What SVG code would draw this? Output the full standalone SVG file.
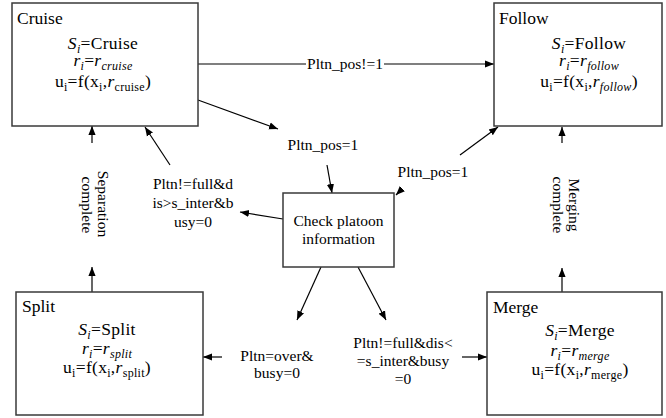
<svg xmlns="http://www.w3.org/2000/svg" width="666" height="418" viewBox="0 0 666 418" font-family="'Liberation Serif', 'DejaVu Serif', serif">
<defs>
<style>
.box{fill:#fff;stroke:#3a3a3a;stroke-width:1.5}
.title{font-family:"Liberation Serif","DejaVu Serif",serif;font-size:17.5px}
.f{font-family:"Liberation Serif","DejaVu Serif",serif;font-size:17.5px;text-anchor:middle;letter-spacing:0.3px}
.lbl{font-family:"Liberation Serif","DejaVu Serif",serif;font-size:15.5px;text-anchor:middle}
.e{stroke:#000;stroke-width:1.2;fill:none;marker-end:url(#ah)}
.s{font-size:12px}
.i{font-style:italic}
</style>
<marker id="ah" viewBox="0 0 10 10" refX="10" refY="5" markerWidth="9" markerHeight="9" markerUnits="userSpaceOnUse" orient="auto">
<path d="M0,1 L10,5 L0,9 z" fill="#000"/>
</marker>
</defs>
<g id="connectors">
<line class="e" x1="198" y1="64" x2="494" y2="64"/>
<rect x="306" y="55" width="78" height="18" fill="#fff"/>
<text class="lbl" x="345" y="69">Pltn_pos!=1</text>
<line class="e" x1="198" y1="100" x2="278" y2="129"/>
<text class="lbl" x="323" y="150">Pltn_pos=1</text>
<line class="e" x1="327" y1="165" x2="332" y2="193"/>
<line class="e" x1="402" y1="189" x2="396" y2="195"/>
<text class="lbl" x="433" y="177">Pltn_pos=1</text>
<line class="e" x1="460" y1="155" x2="498" y2="127"/>
<line class="e" x1="283" y1="219" x2="240" y2="212"/>
<text class="lbl" x="193" y="189">Pltn!=full&amp;d</text>
<text class="lbl" x="193" y="208">is&gt;s_inter&amp;b</text>
<text class="lbl" x="193" y="227">usy=0</text>
<line class="e" x1="170" y1="165" x2="145" y2="127"/>
<line class="e" x1="321" y1="267" x2="297" y2="320"/>
<line class="e" x1="358" y1="267" x2="386" y2="320"/>
<text class="lbl" x="277" y="361">Pltn=over&amp;</text>
<text class="lbl" x="277" y="378">busy=0</text>
<line class="e" x1="222" y1="357" x2="203" y2="357"/>
<text class="lbl" x="403" y="348">Pltn!=full&amp;dis&lt;</text>
<text class="lbl" x="403" y="366">=s_inter&amp;busy</text>
<text class="lbl" x="403" y="384">=0</text>
<line class="e" x1="462" y1="357" x2="487" y2="357"/>
<line class="e" x1="92" y1="292" x2="92" y2="267"/>
<line class="e" x1="92" y1="143" x2="92" y2="126"/>
<text class="lbl" transform="translate(98,204) rotate(90)">Separation</text>
<text class="lbl" transform="translate(82,205) rotate(90)">complete</text>
<line class="e" x1="562" y1="292" x2="562" y2="268"/>
<line class="e" x1="562" y1="143" x2="562" y2="127"/>
<text class="lbl" transform="translate(569,205) rotate(90)">Merging</text>
<text class="lbl" transform="translate(553,205) rotate(90)">complete</text>
</g>
<g id="cruise">
<rect class="box" x="12" y="3" width="186" height="123"/>
<text class="title" x="17" y="24">Cruise</text>
<text class="f" x="103" y="49"><tspan class="i">S</tspan><tspan class="i s" dy="4">i</tspan><tspan dy="-4">=Cruise</tspan></text>
<text class="f" x="103" y="66"><tspan class="i">r</tspan><tspan class="i s" dy="4">i</tspan><tspan dy="-4">=</tspan><tspan class="i">r</tspan><tspan class="i s" dy="4">cruise</tspan></text>
<text class="f" x="103" y="87"><tspan>u</tspan><tspan class="s" dy="4">i</tspan><tspan dy="-4">=f(x</tspan><tspan class="s" dy="4">i</tspan><tspan dy="-4">,</tspan><tspan class="i">r</tspan><tspan class="s" dy="4">cruise</tspan><tspan dy="-4">)</tspan></text>
</g>
<g id="follow">
<rect class="box" x="494" y="3" width="168" height="123"/>
<text class="title" x="499" y="24">Follow</text>
<text class="f" x="589" y="49"><tspan class="i">S</tspan><tspan class="i s" dy="4">i</tspan><tspan dy="-4">=Follow</tspan></text>
<text class="f" x="589" y="66"><tspan class="i">r</tspan><tspan class="i s" dy="4">i</tspan><tspan dy="-4">=</tspan><tspan class="i">r</tspan><tspan class="i s" dy="4">follow</tspan></text>
<text class="f" x="589" y="87"><tspan>u</tspan><tspan class="s" dy="4">i</tspan><tspan dy="-4">=f(x</tspan><tspan class="s" dy="4">i</tspan><tspan dy="-4">,</tspan><tspan class="i">r</tspan><tspan class="i s" dy="4">follow</tspan><tspan dy="-4">)</tspan></text>
</g>
<g id="check">
<rect class="box" x="283" y="193" width="111" height="74"/>
<text class="lbl" x="338.5" y="226">Check platoon</text>
<text class="lbl" x="338.5" y="244">information</text>
</g>
<g id="split">
<rect class="box" x="16" y="292" width="187" height="123"/>
<text class="title" x="22" y="312">Split</text>
<text class="f" x="107" y="335"><tspan class="i">S</tspan><tspan class="i s" dy="4">i</tspan><tspan dy="-4">=Split</tspan></text>
<text class="f" x="107" y="354"><tspan class="i">r</tspan><tspan class="i s" dy="4">i</tspan><tspan dy="-4">=</tspan><tspan class="i">r</tspan><tspan class="i s" dy="4">split</tspan></text>
<text class="f" x="107" y="373"><tspan>u</tspan><tspan class="s" dy="4">i</tspan><tspan dy="-4">=f(x</tspan><tspan class="s" dy="4">i</tspan><tspan dy="-4">,</tspan><tspan class="i">r</tspan><tspan class="s" dy="4">split</tspan><tspan dy="-4">)</tspan></text>
</g>
<g id="merge">
<rect class="box" x="487" y="292" width="175" height="123"/>
<text class="title" x="493" y="313">Merge</text>
<text class="f" x="580" y="336"><tspan class="i">S</tspan><tspan class="i s" dy="4">i</tspan><tspan dy="-4">=Merge</tspan></text>
<text class="f" x="580" y="356"><tspan class="i">r</tspan><tspan class="i s" dy="4">i</tspan><tspan dy="-4">=</tspan><tspan class="i">r</tspan><tspan class="i s" dy="4">merge</tspan></text>
<text class="f" x="580" y="375"><tspan>u</tspan><tspan class="s" dy="4">i</tspan><tspan dy="-4">=f(x</tspan><tspan class="s" dy="4">i</tspan><tspan dy="-4">,</tspan><tspan class="i">r</tspan><tspan class="s" dy="4">merge</tspan><tspan dy="-4">)</tspan></text>
</g>
</svg>
